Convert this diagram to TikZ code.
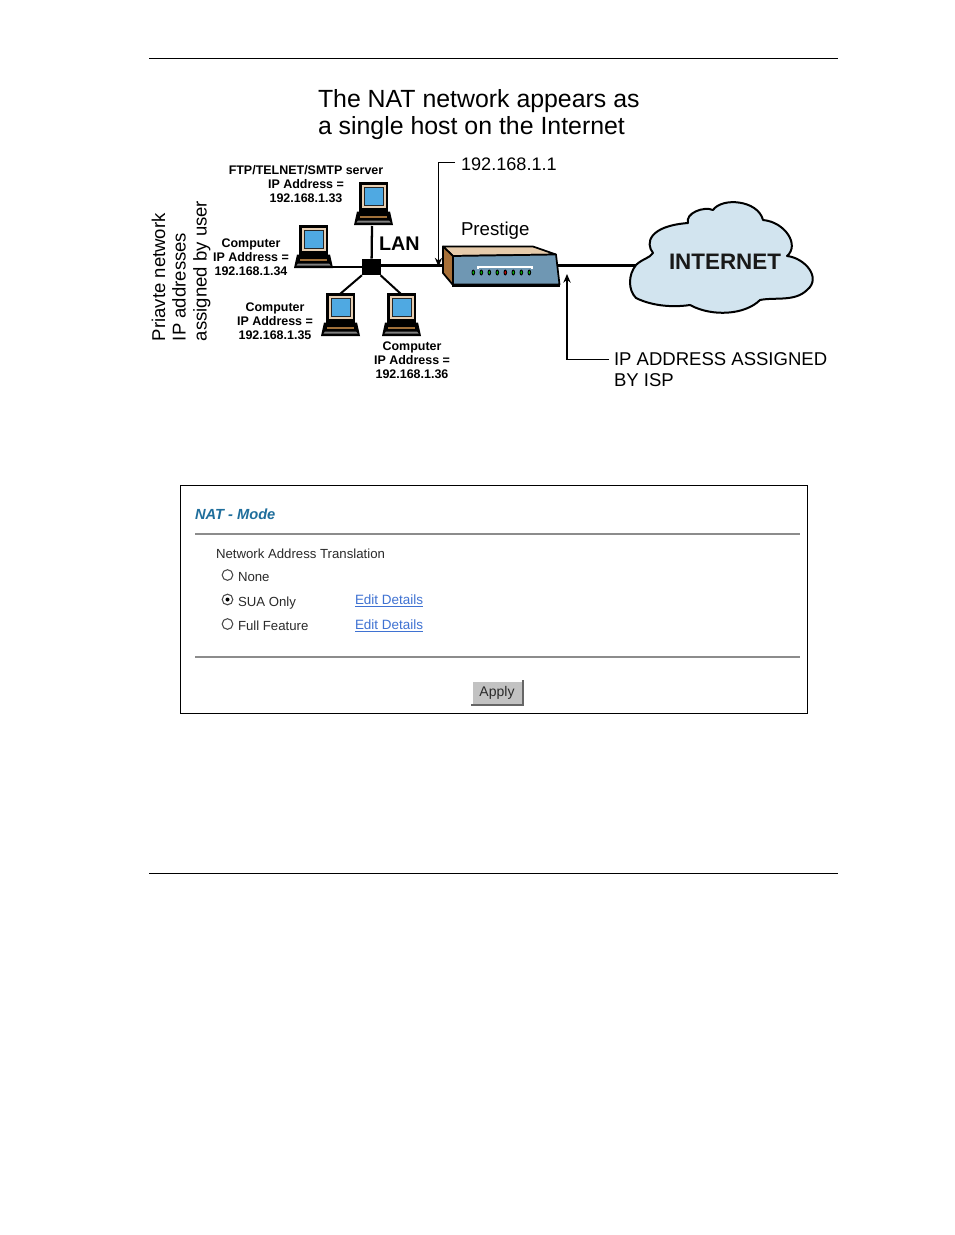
\documentclass[tikz,border=0pt]{standalone}
\usepackage{fontspec}
\setmainfont{Liberation Sans}
\usetikzlibrary{arrows.meta}
\definecolor{screenblue}{HTML}{4FA9E2}
\definecolor{framebeige}{HTML}{E8D0B4}
\definecolor{basebrown}{HTML}{A0703A}
\definecolor{routerfront}{HTML}{6F97B3}
\definecolor{routertop}{HTML}{E6CBAB}
\definecolor{routerside}{HTML}{A87038}
\definecolor{cloudblue}{HTML}{D2E4EF}
\definecolor{natteal}{HTML}{1F6E9C}
\definecolor{linkblue}{HTML}{3F72D2}
\definecolor{rulegrey}{HTML}{8C8C8C}
\definecolor{btngrey}{HTML}{C2C2C2}
\definecolor{textgrey}{HTML}{2A2A2A}
\tikzset{
  txt/.style={inner sep=0pt,outer sep=0pt,anchor=base west,text=black},
  diagram/.style={txt,font=\fontsize{14}{17}\selectfont},
  title/.style={txt,font=\fontsize{18.65}{22}\selectfont},
  addr/.style={inner sep=0pt,align=center,font=\fontsize{9.35}{10.5}\selectfont\bfseries},
  side/.style={txt,rotate=90,font=\fontsize{13.9}{16}\selectfont},
  wire/.style={draw=black,line width=1.7pt},
  callout/.style={draw=black,line width=1pt,-{Stealth[length=6.5pt,width=5.5pt]}},
  pagerule/.style={draw=black,line width=0.7pt},
  formrule/.style={draw=rulegrey,line width=1.2pt},
  form/.style={txt,text=textgrey,font=\fontsize{9.9}{12}\selectfont},
  editlink/.style={txt,text=linkblue,font=\fontsize{10.1}{12}\selectfont},
  radio/.style={circle,draw=black!70,fill=white,line width=0.8pt,minimum size=8pt,inner sep=0pt},
  pc/.pic={
    \fill[black] (-2,29.5) -- (31,29.5) -- (34,43) -- (-5,43) -- cycle;
    \fill[black!50] (-1,38.5) -- (30,38.5) -- (31.5,40.5) -- (-2.5,40.5) -- cycle;
    \draw[basebrown,line width=0.9pt] (1,35) -- (28,35);
    \fill[black] (0,0) rectangle (29,30);
    \fill[framebeige] (3,3) rectangle (26.5,25.5);
    \fill[black!85] (4.5,4.5) rectangle (25,24);
    \fill[screenblue] (6,6) rectangle (23.5,23);
  },
  led/.pic={
    \fill[black] (0,0) ellipse [x radius=1.8,y radius=3];
    \fill[pic actions] (0,0) ellipse [x radius=0.9,y radius=1.8];
  }
}
\begin{document}
\begin{tikzpicture}[x=0.75pt,y=-0.75pt]
\useasboundingbox (0,0) rectangle (954,1235);
\fill[white] (0,0) rectangle (954,1235);

% page rules
\coordinate (ruleAl) at (149,58.5); \coordinate (ruleAr) at (838,58.5);
\coordinate (ruleBl) at (149,873.5); \coordinate (ruleBr) at (838,873.5);
\draw[pagerule] (ruleAl) -- (ruleAr);
\draw[pagerule] (ruleBl) -- (ruleBr);

% titles
\node[title] (t1) at (318,107) {The NAT network appears as};
\node[title] (t2) at (318,134.5) {a single host on the Internet};

% side text
\node[side] (s1) at (165,341) {Priavte network};
\node[side] (s2) at (185.5,341) {IP addresses};
\node[side] (s3) at (206.5,341) {assigned by user};

% connectors
\node[fill=black,inner sep=0pt,minimum width=14pt,minimum height=12pt] (hub) at (371.5,267) {};
\node[inner sep=0pt,minimum width=85.5pt,minimum height=22.5pt] (router) at (501,265.5) {};
\coordinate (pcAend) at (372,226);
\coordinate (pcBend) at (332,267);
\coordinate (pcCend) at (340,294);
\coordinate (pcDend) at (401,294);
\coordinate (cloudW) at (636,265.5);
\draw[wire] (hub) -- (pcAend);
\draw[wire] (hub) -- (pcBend);
\draw[wire,line width=1.5pt] (hub) -- (pcCend);
\draw[wire,line width=1.5pt] (hub) -- (pcDend);
\draw[wire] (hub |- router.west) -- (router.west);
\draw[wire] (router.east) -- (cloudW);

% computers
\pic at (359,182) {pc};
\pic at (299,225) {pc};
\pic at (326,293) {pc};
\pic at (387,293) {pc};

% address labels
\node[addr] (aA) at (306,184) {FTP/TELNET/SMTP server\\IP Address =\\192.168.1.33};
\node[addr] (aB) at (251,257) {Computer\\IP Address =\\192.168.1.34};
\node[addr] (aC) at (275,321) {Computer\\IP Address =\\192.168.1.35};
\node[addr] (aD) at (412,360) {Computer\\IP Address =\\192.168.1.36};
\node[txt,font=\fontsize{14.8}{18}\selectfont\bfseries] (lan) at (379,250) {LAN};

% router
\draw[black,line width=1.3pt,line join=round,fill=routertop] (443,246.5) -- (533,246.5) -- (556,254.5) -- (453,256) -- cycle;
\draw[black,line width=1.3pt,line join=round,fill=routerside] (443,246.5) -- (453,256) -- (453,285) -- (443,273) -- cycle;
\draw[black,line width=1.3pt,line join=round,fill=routerfront] (453,256) -- (556,254.5) -- (559.5,284.5) -- (453,284.5) -- cycle;
\draw[black,line width=2.6pt] (452,285.5) -- (560,285.5);
\draw[white,line width=1pt] (478,269) -- (478,267) -- (532,267) -- (532,269);
\foreach \i/\c in {0/green!70!black,1/green!70!black,2/green!70!black,3/green!70!black,4/red!80!black,5/green!70!black,6/green!70!black,7/green!70!black}
  \pic[fill=\c] at ({473.3+8*\i},272.5) {led};
\node[diagram] (prest) at (461,235.5) {Prestige};

% callouts
\node[diagram,font=\fontsize{13.6}{16}\selectfont] (ipA) at (461,170.5) {192.168.1.1};
\coordinate (ipAc) at (438.5,162.5);
\coordinate (ipAe) at (438.5,266.5);
\coordinate (ipAs) at (455,162.5);
\draw[callout] (ipAs) -- (ipAc) -- (ipAe);
\node[diagram,font=\fontsize{13.9}{17}\selectfont] (ipB) at (614,365.5) {IP ADDRESS ASSIGNED};
\node[diagram,font=\fontsize{13.9}{17}\selectfont] (ipB2) at (614,386.5) {BY ISP};
\coordinate (ipBs) at (609,359.5);
\coordinate (ipBc) at (567,359.5);
\coordinate (ipBe) at (567,274);
\draw[callout] (ipBs) -- (ipBc) -- (ipBe);

% cloud
\draw[black,line width=1.5pt,fill=cloudblue,line join=round]
  (636,265) .. controls (642,259) and (650,258) .. (653,253)
  .. controls (645,243) and (649,226) .. (688,223)
  .. controls (685,213) and (704,206) .. (713,210)
  .. controls (722,197) and (758,200) .. (763,220)
  .. controls (785,222) and (800,245) .. (787,256)
  .. controls (805,258) and (822,278) .. (807,290)
  .. controls (795,302) and (775,297) .. (760,300)
  .. controls (745,315) and (712,317) .. (690,305)
  .. controls (670,308) and (650,305) .. (636,298)
  .. controls (628,290) and (628,275) .. (636,265) -- cycle;
\node[inner sep=0pt,font=\fontsize{16.8}{20}\selectfont\bfseries,text=black!90] (inet) at (725,262) {INTERNET};

% form panel
\node[draw=black,line width=0.6pt,inner sep=0pt,minimum width=470.25pt,minimum height=171pt] (panel) at (494,599.5) {};
\node[txt,text=natteal,font=\fontsize{11}{13}\selectfont\bfseries\itshape] (nat) at (195,519) {NAT - Mode};
\coordinate (fAl) at (195,534); \coordinate (fAr) at (800,534);
\coordinate (fBl) at (195,657); \coordinate (fBr) at (800,657);
\draw[formrule] (fAl) -- (fAr);
\draw[formrule] (fBl) -- (fBr);
\node[form] (nato) at (216,558.5) {Network Address Translation};
\node[radio] (r1) at (227.5,575) {};
\node[radio] (r2) at (227.5,599.5) {};
\fill[black] (r2) circle (2);
\node[radio] (r3) at (227.5,624) {};
\node[form] (none) at (238,581.5) {None};
\node[form] (sua) at (238,606) {SUA Only};
\node[form] (full) at (238,630.5) {Full Feature};
\node[editlink] (e1) at (355,604.5) {\underline{Edit Details}};
\node[editlink] (e2) at (355,629) {\underline{Edit Details}};
\fill[black!60] (471,680) rectangle (524,706);
\fill[white] (471,680) rectangle (522,704);
\fill[btngrey] (472.5,681.5) rectangle (522,704);
\node[inner sep=0pt,text=textgrey,font=\fontsize{10.5}{12}\selectfont] (apply) at (497,692.5) {Apply};
\end{tikzpicture}
\end{document}
